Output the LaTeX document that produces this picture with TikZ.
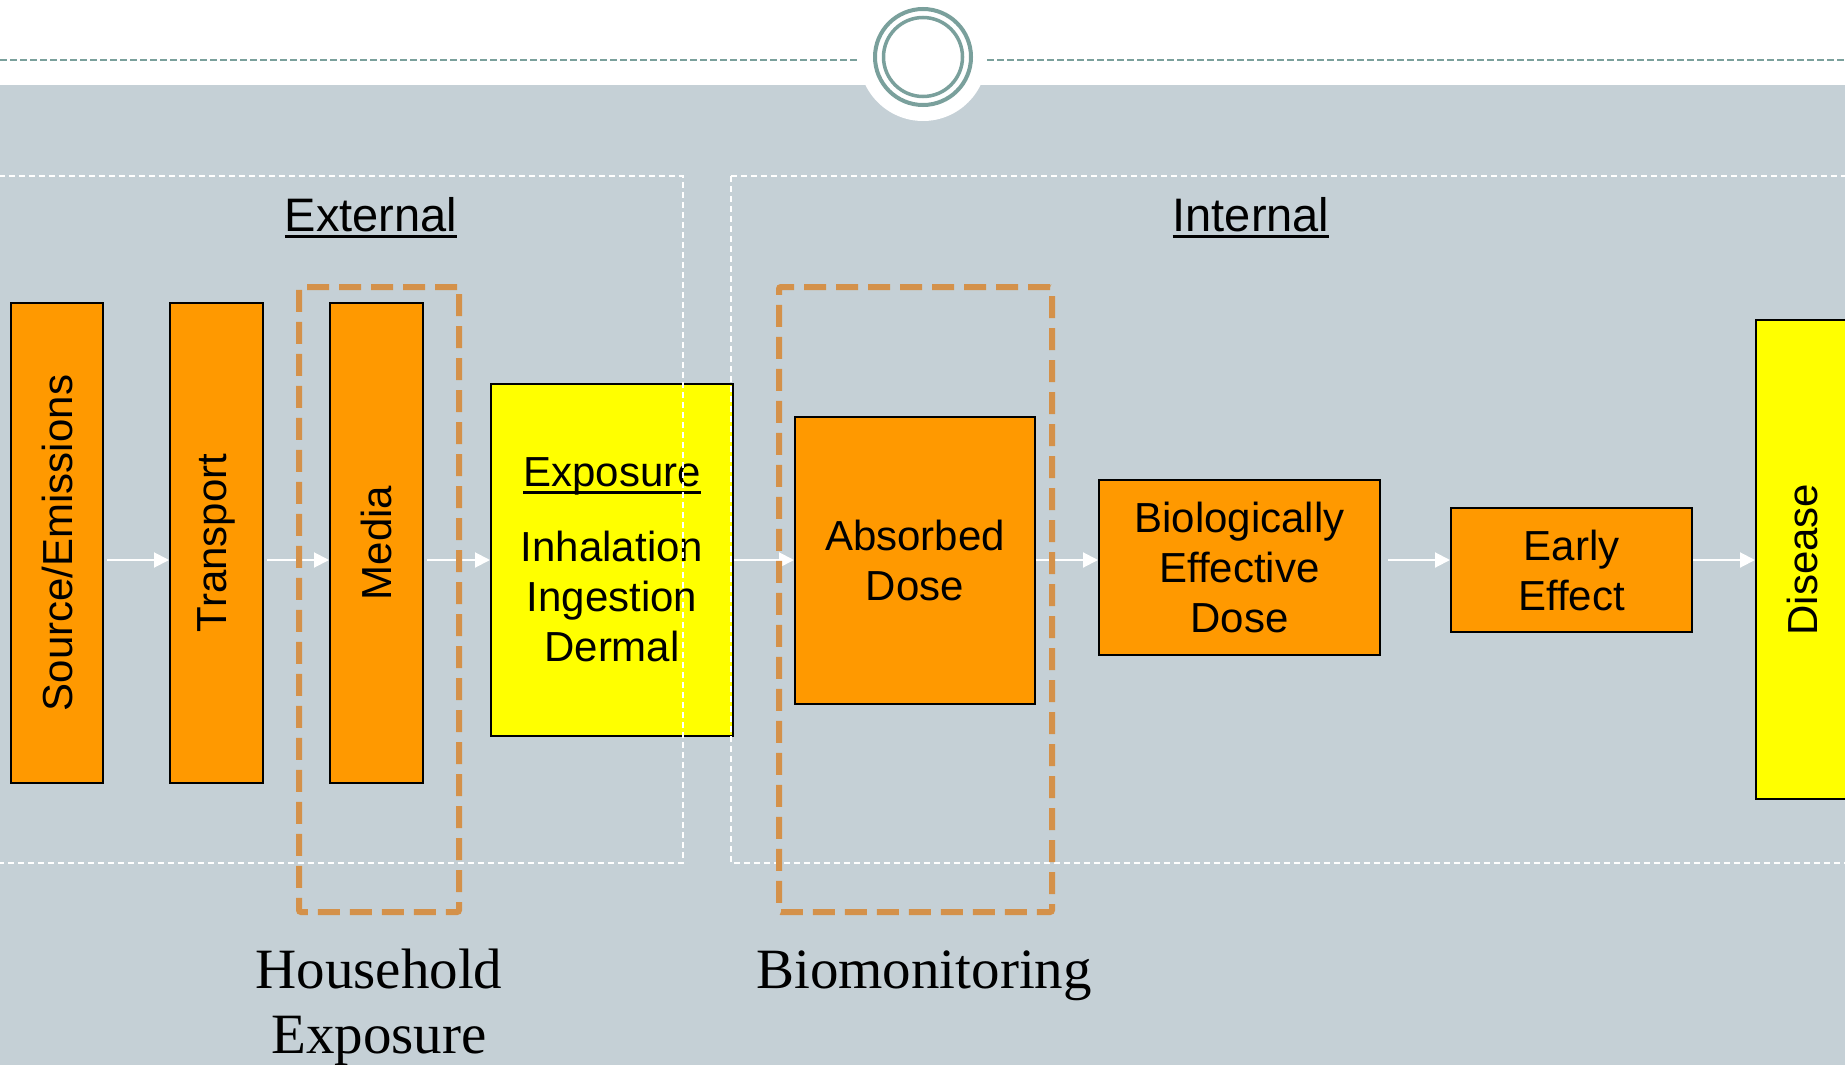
\documentclass[tikz,border=0pt]{standalone}
\usepackage{fontspec}
\setmainfont{Liberation Serif}
\setsansfont{Liberation Sans}
\usetikzlibrary{arrows.meta}

\definecolor{slide}{RGB}{197,208,214}
\definecolor{ringteal}{RGB}{122,160,156}
\definecolor{boxorange}{RGB}{255,153,0}
\definecolor{boxyellow}{RGB}{255,255,0}
\definecolor{groupbrown}{RGB}{212,145,74}

\newcommand{\boxfont}{\sffamily\fontsize{42}{50}\selectfont}
\newcommand{\headfont}{\sffamily\fontsize{47}{56}\selectfont}
\newcommand{\notefont}{\rmfamily\fontsize{57}{65}\selectfont}
\newcommand{\ulword}[1]{\setbox0=\hbox{#1}\rlap{\rule[-7pt]{\wd0}{3pt}}\box0}

\begin{document}
\begin{tikzpicture}
  [x=1pt, y=-1pt,
   orange box/.style={rectangle, draw=black, line width=2pt, fill=boxorange, inner sep=0pt, align=center, font=\boxfont},
   yellow box/.style={orange box, fill=boxyellow},
   flow/.style={draw=white, fill=white, line width=2pt, -{Triangle[length=15pt,width=15pt]}},
   region frame/.style={draw=white, line width=1.5pt, dash pattern=on 6pt off 4pt},
   group box/.style={rectangle, draw=groupbrown, line width=6pt, dash pattern=on 22pt off 10pt, rounded corners=2pt, inner sep=0pt},
   head label/.style={font=\headfont, anchor=base},
   note label/.style={font=\notefont, align=center, anchor=base}]
  \useasboundingbox (0,0) rectangle (1845,1065);
  \fill[white] (0,0) rectangle (1845,85);
  \fill[slide] (0,85) rectangle (1845,1065);
  \fill[white] (923,57) circle (64pt);
  \draw[ringteal, line width=1.3pt, dash pattern=on 7pt off 3pt] (0,60) -- (857,60) (987,60) -- (1845,60);
  \draw[ringteal, line width=4pt] (923,57) circle (48pt);
  \draw[ringteal, line width=3.5pt] (923,57) circle (39.5pt);

  \node[orange box, minimum width=92pt, minimum height=480pt] (src) at (57,543) {\rotatebox{90}{Source/Emissions}};
  \node[orange box, minimum width=93pt, minimum height=480pt] (trn) at (216.5,543) {\rotatebox{90}{Transport}};
  \node[orange box, minimum width=93pt, minimum height=480pt] (med) at (376.5,543) {\rotatebox{90}{Media}};
  \node[yellow box, minimum width=242pt, minimum height=352pt] (exp) at (612,560) {\ulword{Exposure}\\[25pt]Inhalation\\Ingestion\\Dermal};
  \node[orange box, minimum width=240pt, minimum height=287pt] (abs) at (915,560.5) {Absorbed\\Dose};
  \node[orange box, minimum width=281pt, minimum height=175pt] (bed) at (1239.5,567.5) {Biologically\\Effective\\Dose};
  \node[orange box, minimum width=241pt, minimum height=124pt] (eef) at (1571.5,570) {Early\\Effect};
  \node[yellow box, minimum width=93pt, minimum height=479pt] (dis) at (1802.5,559.5) {\rotatebox{90}{Disease}};

  \coordinate (row) at (0,560);
  \draw[flow] ([xshift=3pt]src.east |- row) -- (trn.west |- row);
  \draw[flow] ([xshift=3pt]trn.east |- row) -- (med.west |- row);
  \draw[flow] ([xshift=3pt]med.east |- row) -- (exp.west |- row);
  \draw[flow] (exp.east |- row) -- (abs.west |- row);
  \draw[flow] (abs.east |- row) -- (bed.west |- row);
  \draw[flow] ([xshift=7pt]bed.east |- row) -- (eef.west |- row);
  \draw[flow] (eef.east |- row) -- (dis.west |- row);

  \draw[region frame] (-5,176) rectangle (683,863);
  \draw[region frame] (731,176) rectangle (1852,863);
  \node[head label] (ext) at (371,231) {\ulword{External}};
  \node[head label] (int) at (1251,231) {\ulword{Internal}};

  \node[group box, minimum width=160pt, minimum height=625pt] (hh) at (379,599.5) {};
  \node[group box, minimum width=273pt, minimum height=625pt] (bio) at (915.5,599.5) {};
  \node[note label] (hhlabel) at (379,1053) {Household\\Exposure};
  \node[note label] (biolabel) at (924,988) {Biomonitoring};
\end{tikzpicture}
\end{document}
